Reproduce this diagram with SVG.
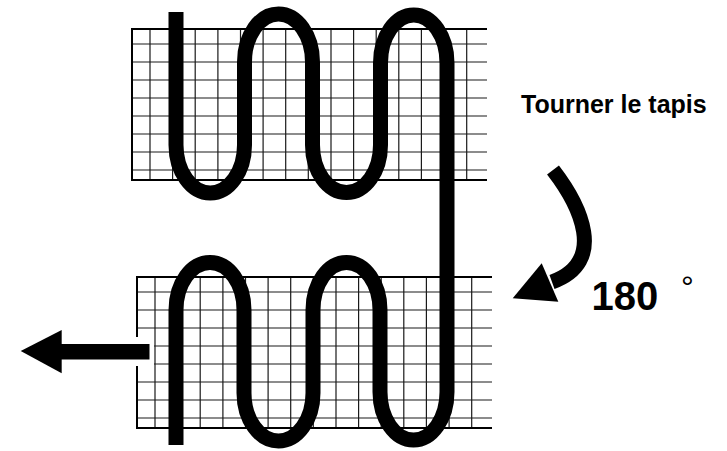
<svg xmlns="http://www.w3.org/2000/svg" xmlns:xlink="http://www.w3.org/1999/xlink" width="727" height="451" viewBox="0 0 727 451">
  <style>
    .inner { stroke: #1a1a1a; stroke-width: 1.2; fill: none; }
    .border { stroke: #000; stroke-width: 2; fill: none; }
    .belt { stroke: #000; stroke-width: 15; fill: none; stroke-linecap: butt; stroke-linejoin: round; }
    .label { font-family: "Liberation Sans", Arial, Helvetica, sans-serif; font-weight: bold; fill: #000; }
  </style>
  <defs>
    <g id="grid">
      <path class="inner" d="M132 44H487M132 62H487M132 80H487M132 98H487M132 116H487M132 134H487M132 152H487M132 170H487"/>
      <path class="inner" d="M150 29V180M172.6 29V180M195.2 29V180M217.9 29V180M240.5 29V180M263.1 29V180M285.7 29V180M308.3 29V180M331 29V180M353.6 29V180M376.2 29V180M398.8 29V180M421.4 29V180M444.1 29V180M466.7 29V180"/>
      <path class="border" d="M487 29H132V180H487"/>
    </g>
  </defs>
  <rect width="727" height="451" fill="#fff"/>
  <g id="carpet-top">
    <use xlink:href="#grid" href="#grid"/>
  </g>
  <g id="carpet-bottom">
    <use xlink:href="#grid" href="#grid" transform="translate(5,248)"/>
  </g>
  <g id="connectors">
    <path id="belt" class="belt" d="M176 12V145A34.25 48 0 0 0 244.5 145V62A34 48 0 0 1 312.5 62V145A34 47.5 0 0 0 380.5 145V63A33.25 48 0 0 1 447 63V392A33.5 48 0 0 1 380 392V310A33.5 47.5 0 0 0 313 310V393A34.5 48 0 0 1 244 393V310A34 47.5 0 0 0 176 310V445"/>
    <g id="exit-arrow">
      <rect x="135" y="337" width="19" height="29" fill="#fff"/>
      <rect x="60" y="344" width="89.5" height="15.5" fill="#000"/>
      <polygon points="20.7,351 61.7,330 61.7,373.3" fill="#000"/>
    </g>
    <g id="turn-arrow">
      <path class="belt" d="M553 170C580 205 608 262 552 282"/>
      <polygon points="541.7,263.3 558.3,301.7 512.7,298.3" fill="#000"/>
    </g>
  </g>
  <g id="label-turn">
    <text class="label" x="521" y="113" font-size="25">Tourner le tapis</text>
  </g>
  <g id="label-180">
    <text class="label" x="591.6" y="310" font-size="40">180<tspan x="681" y="298" font-size="32" font-weight="normal">°</tspan></text>
  </g>
</svg>
